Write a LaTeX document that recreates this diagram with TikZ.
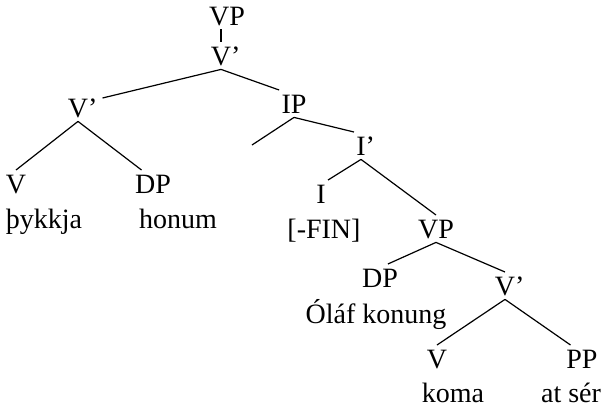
\documentclass[tikz,border=0pt]{standalone}
\usepackage{fontspec}
\setmainfont{Liberation Serif}

\begin{document}
\begin{tikzpicture}[x=0.5pt, y=-0.5pt,
  lbl/.style={anchor=base, inner xsep=1pt, inner ysep=2pt, text height=9.3pt, text depth=0pt, font=\fontsize{14}{16}\selectfont},
  word/.style={anchor=base, inner sep=0pt, font=\fontsize{14}{16}\selectfont}]
  \useasboundingbox (0,0) rectangle (601,408);

  \node (vp0) [lbl] at (227,25) {VP};
  \node (vbar0) [lbl] at (221,65) {V\rlap{’}};
  \node (vbar1) [lbl] at (78,117) {V\rlap{’}};
  \node (ip) [lbl] at (294,113) {IP};
  \node (v1) [lbl] at (16,193) {V};
  \node (dp1) [lbl] at (153,193) {DP};
  \node (w1) [word] at (44,228) {þykkja};
  \node (w2) [word] at (178,228) {honum};
  \coordinate (spec) at (252,145);
  \node (ibar) [lbl] at (361,155) {I\rlap{’}};
  \node (i) [lbl] at (321,203) {I};
  \node (fin) [word] at (324,238) {[-FIN]};
  \node (vp2) [lbl] at (436,238) {VP};
  \node (dp2) [lbl] at (380,287) {DP};
  \node (olaf) [word] at (376,323) {Óláf konung};
  \node (vbar2) [lbl] at (505,295) {V\rlap{’}};
  \node (v2) [lbl] at (437,368) {V};
  \node (koma) [word] at (453,402) {koma};
  \node (pp) [lbl] at (582,368) {PP};
  \node (atser) [word] at (571,402) {at sér};

  \path [-] [line width=0.6pt]
  (vp0.south -| vbar0.north) edge (vbar0.north)
  (vbar0.south) edge ([xshift=6pt,yshift=-2pt]vbar1.north east)
  (vbar0.south) edge (ip.north west)
  (vbar1.south) edge (v1.north)
  (vbar1.south) edge (dp1.130)
  (ip.south) edge (spec)
  (ip.south) edge (ibar.north west)
  (ibar.south) edge (i.north east)
  (ibar.south) edge (vp2.north)
  (vp2.south) edge (dp2.60)
  (vp2.south) edge (vbar2.north)
  (vbar2.south) edge (v2.north)
  (vbar2.south) edge (pp.130);
\end{tikzpicture}
\end{document}
